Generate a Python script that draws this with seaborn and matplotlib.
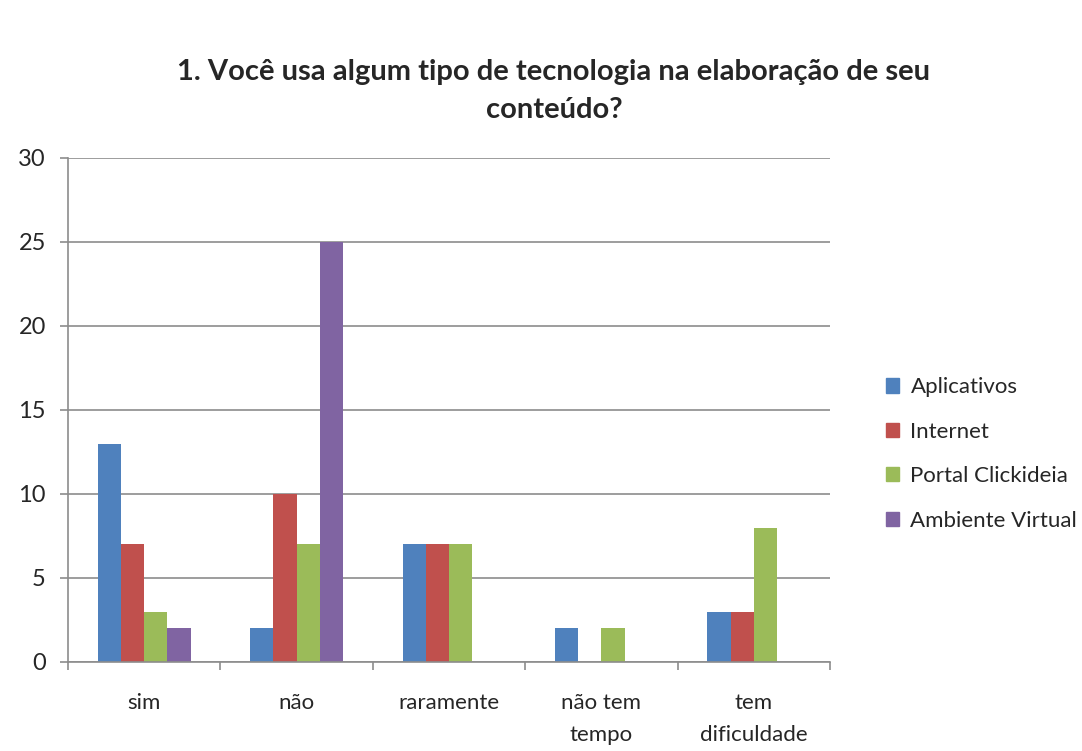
import pandas as pd
import matplotlib.pyplot as plt
import seaborn as sns

sns.set_theme(style="white")
plt.rcParams["font.family"] = ["Lato", "DejaVu Sans"]

dpi = 100
xsize = 1082
ysize = 751

categories = ["sim", "não", "raramente", "não tem\ntempo", "tem\ndificuldade"]
series = ["Aplicativos", "Internet", "Portal Clickideia", "Ambiente Virtual"]
aplicativos = [13, 2, 7, 2, 3]
internet = [7, 10, 7, 0, 3]
portal = [3, 7, 7, 2, 8]
ambiente = [2, 25, 0, 0, 0]
colors = ["#4F81BD", "#C0504D", "#9BBB59", "#8064A2"]

df = pd.DataFrame({"Aplicativos": aplicativos, "Internet": internet,
                   "Portal Clickideia": portal, "Ambiente Virtual": ambiente},
                  index=categories)
df = df.reset_index().melt(id_vars="index", var_name="serie", value_name="valor") \
       .rename({"index": "categoria"}, axis=1)

fig = plt.figure(figsize=(xsize/dpi, ysize/dpi), dpi=dpi)
ax = fig.add_axes([68/xsize, 89/ysize, 762/xsize, 504/ysize])

sns.barplot(data=df, x="categoria", y="valor", hue="serie", hue_order=series,
            order=categories, palette=colors, width=0.61, saturation=1,
            linewidth=0, ax=ax, legend=False)

ax.set_xlim(-0.5, len(categories) - 0.5)
ax.set_ylim(0, 30)
ax.set_yticks(range(0, 31, 5))
ax.set_xlabel("")
ax.set_ylabel("")

# gridlines and axes like excel
ax.yaxis.grid(True, color="#8c8c8c", linewidth=1.2)
ax.set_axisbelow(True)
for s in ["top", "right"]:
  ax.spines[s].set_visible(False)
for s in ["left", "bottom"]:
  ax.spines[s].set_color("#8c8c8c")
  ax.spines[s].set_linewidth(1.2)

ax.tick_params(axis="y", length=6, width=1.2, color="#8c8c8c", labelsize=17, pad=10, direction="out", left=True)
ax.tick_params(axis="x", which="major", length=0, labelsize=16, pad=22)
ax.set_xticks([i - 0.5 for i in range(len(categories) + 1)], minor=True)
ax.tick_params(axis="x", which="minor", length=6, width=1.2, color="#8c8c8c", direction="out", bottom=True)
for lbl in ax.get_xticklabels():
  lbl.set_linespacing(1.75)

handles = [plt.Rectangle((0, 0), 1, 1, color=c) for c in colors]
fig.legend(handles, series, loc="center left", bbox_to_anchor=(866/xsize, 1 - 454/ysize),
           frameon=False, fontsize=16, handlelength=0.6, handleheight=0.6,
           handletextpad=0.5, labelspacing=1.1)

fig.text(0.512, 1 - 72/ysize, "1. Você usa algum tipo de tecnologia na elaboração de seu",
         ha="center", va="center", fontsize=21, fontweight="bold")
fig.text(0.512, 1 - 110/ysize, "conteúdo?",
         ha="center", va="center", fontsize=21, fontweight="bold")

plt.savefig("out.png", dpi=dpi)
